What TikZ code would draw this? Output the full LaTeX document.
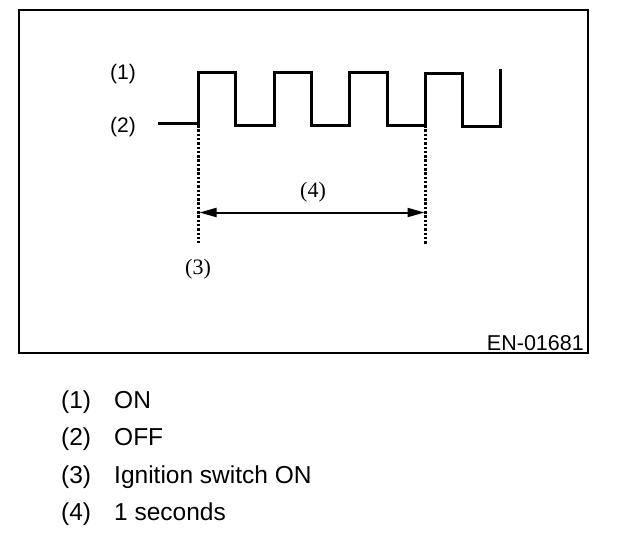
\documentclass[tikz,border=0pt]{standalone}
\usepackage{fontspec}
\setmainfont{Liberation Sans}
\newfontfamily\serifx{Liberation Serif}
\usetikzlibrary{arrows.meta}
\begin{document}
\begin{tikzpicture}[x=1pt,y=-1pt,
  frame/.style={line width=2pt},
  wave/.style={line width=3pt,line cap=butt,line join=miter},
  dotline/.style={line width=2.5pt,dash pattern=on 2.5pt off 1.8pt},
  dimarrow/.style={line width=2pt,{Triangle[length=17pt,width=9pt]}-{Triangle[length=17pt,width=9pt]}},
  lvl/.style={font=\fontsize{21}{23}\selectfont,inner sep=0pt},
  sflab/.style={font=\serifx\fontsize{22}{24}\selectfont,inner sep=0pt},
  leg/.style={font=\fontsize{24.5}{26}\selectfont,inner sep=0pt,anchor=base west},
  code/.style={font=\fontsize{21.5}{23}\selectfont,inner sep=0pt,anchor=base east}]
\useasboundingbox (0,0) rectangle (624,550);
\draw[frame] (18.5,9.5) rectangle (587.5,353);
% waveform
\draw[wave] (158,123) -- (198.5,123) -- (198.5,72) -- (235,72) -- (235,125) -- (274,125)
  -- (274,72) -- (311,72) -- (311,125) -- (349,125) -- (349,72) -- (387,72) -- (387,125)
  -- (425,125) -- (425,73) -- (462,73) -- (462,126) -- (500,126) -- (500,69);
\node[lvl] (on) at (123,74) {(1)};
\node[lvl] (off) at (123,127) {(2)};
% dotted markers
\coordinate (s1) at (198.5,125);
\coordinate (s2) at (198.5,243);
\coordinate (e1) at (425.5,125);
\coordinate (e2) at (425.5,245);
\draw[dotline] (s1) -- (s2);
\draw[dotline] (e1) -- (e2);
\coordinate (a1) at (199.5,212.5);
\coordinate (a2) at (424.5,212.5);
\draw[dimarrow] (a1) -- (a2);
\node[sflab] (l4) at (313,192) {(4)};
\node[sflab] (l3) at (198,269) {(3)};
\node[code] (en) at (584,350) {EN-01681};
% legend
\node[leg] (n1) at (61,408) {(1)};
\node[leg] (t1) at (114,408) {ON};
\node[leg] (n2) at (61,445.5) {(2)};
\node[leg] (t2) at (114,445.5) {OFF};
\node[leg] (n3) at (61,483) {(3)};
\node[leg] (t3) at (114,483) {Ignition switch ON};
\node[leg] (n4) at (61,520.5) {(4)};
\node[leg] (t4) at (114,520.5) {1 seconds};
\end{tikzpicture}
\end{document}
